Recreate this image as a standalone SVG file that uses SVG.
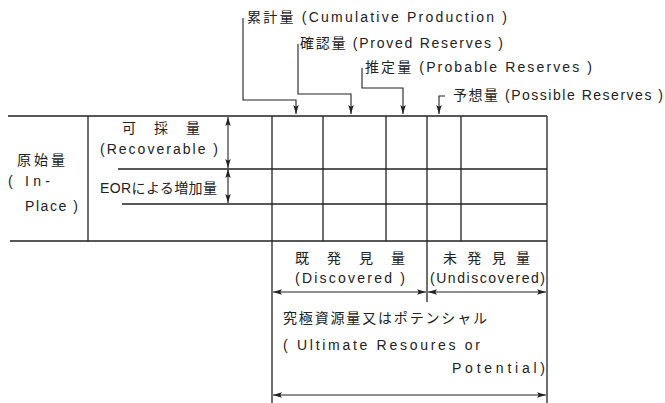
<svg xmlns="http://www.w3.org/2000/svg" width="665" height="403" viewBox="0 0 665 403">
<style>
text{font-family:"Liberation Sans","Noto Sans CJK JP",sans-serif;font-size:14px;fill:#222}
.ln{stroke:#222;stroke-width:1.3;fill:none}
.ar{stroke:#222;stroke-width:1.1;fill:none;marker-end:url(#ah)}
.da{stroke:#222;stroke-width:1.1;fill:none;marker-start:url(#ah);marker-end:url(#ah)}
</style>
<defs>
<marker id="ah" viewBox="0 0 10 6" refX="10" refY="3" markerWidth="9" markerHeight="5.4" markerUnits="userSpaceOnUse" orient="auto-start-reverse">
<path d="M0,0 L10,3 L0,6 L2,3 Z" fill="#222"/>
</marker>
</defs>
<rect width="665" height="403" fill="#fff"/>
<g id="frame">
<path class="ln" d="M8,116 H547 M118,169 H547 M122,204 H547 M10,241 H547 M88,116 V241 M272,116 V403 M547,116 V403 M323,116 V241 M386,116 V241 M461,116 V241 M427,116 V302"/>
</g>
<g id="connectors">
<path class="ar" d="M243,18 V100 H296 V114"/>
<path class="ar" d="M298,44 V94 H351 V114"/>
<path class="ar" d="M362,68 V88 H403 V114"/>
<path class="ar" d="M445,96 H439 V114"/>
<path class="da" d="M228,117 V168"/>
<path class="da" d="M228,169 V203"/>
<path class="da" d="M273,292 H426"/>
<path class="da" d="M428,292 H546"/>
<path class="da" d="M273,395 H546"/>
</g>
<g id="top-labels">
<text x="247" y="22" textLength="260" lengthAdjust="spacing">累計量 (Cumulative Production )</text>
<text x="300" y="48" textLength="203" lengthAdjust="spacing">確認量 (Proved Reserves )</text>
<text x="365" y="72" textLength="227" lengthAdjust="spacing">推定量 (Probable Reserves )</text>
<text x="453" y="100" textLength="210" lengthAdjust="spacing">予想量 (Possible Reserves )</text>
</g>
<g id="in-place">
<text x="17" y="165" textLength="48" lengthAdjust="spacing">原 始 量</text>
<text x="8" y="186" textLength="42" lengthAdjust="spacing">( In-</text>
<text x="25" y="211" textLength="53" lengthAdjust="spacing">Place )</text>
</g>
<g id="recoverable">
<text x="122" y="133" textLength="78" lengthAdjust="spacing">可 採 量</text>
<text x="100" y="154" textLength="118" lengthAdjust="spacing">(Recoverable )</text>
</g>
<g id="eor">
<text x="100" y="193" textLength="117" lengthAdjust="spacing">EORによる増加量</text>
</g>
<g id="discovered">
<text x="295" y="263" textLength="110" lengthAdjust="spacing">既 発 見 量</text>
<text x="295" y="283" textLength="110" lengthAdjust="spacing">(Discovered )</text>
</g>
<g id="undiscovered">
<text x="443" y="263" textLength="87" lengthAdjust="spacing">未 発 見 量</text>
<text x="430" y="283" textLength="115" lengthAdjust="spacing">(Undiscovered)</text>
</g>
<g id="ultimate">
<text x="283" y="323" textLength="204" lengthAdjust="spacing">究極資源量又はポテンシャル</text>
<text x="283" y="350" textLength="197" lengthAdjust="spacing">( Ultimate Resoures or</text>
<text x="452" y="373" textLength="93" lengthAdjust="spacing">Potential)</text>
</g>
</svg>
